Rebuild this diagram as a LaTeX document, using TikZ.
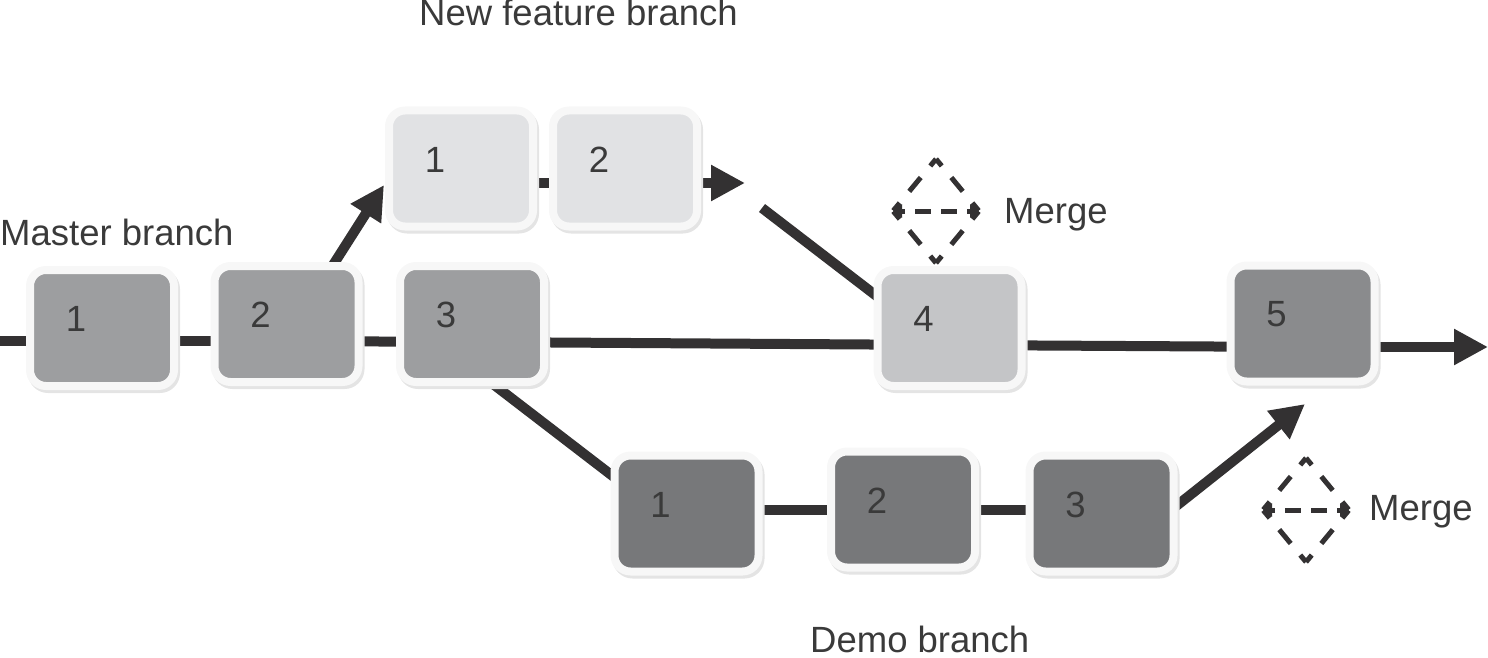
\documentclass[tikz,border=0pt]{standalone}
\usepackage{fontspec}
\setmainfont{Liberation Sans}
\usetikzlibrary{arrows.meta,shadows}
\definecolor{txt}{HTML}{3A3A3A}
\definecolor{linec}{HTML}{333132}
\definecolor{framec}{HTML}{F7F7F7}
\definecolor{shadowc}{HTML}{E4E4E4}
\definecolor{mastc}{HTML}{9D9EA0}
\definecolor{featc}{HTML}{E1E2E4}
\definecolor{mergec}{HTML}{C4C5C7}
\definecolor{fivec}{HTML}{8A8B8D}
\definecolor{democ}{HTML}{77787A}
\pgfdeclarelayer{background}
\pgfsetlayers{background,main}
\tikzset{
  bigfont/.style={font=\fontsize{36.5}{40}\selectfont, text=txt},
  commit/.style={rectangle, rounded corners=16pt, minimum width=144pt, minimum height=116pt,
    inner sep=0pt, draw=framec, line width=8pt, fill=#1,
    drop shadow={shadow xshift=2pt, shadow yshift=-3pt, fill=shadowc, draw=shadowc, line width=8pt, opacity=1}},
  numlbl/.style={bigfont, xshift=-26pt, yshift=9pt, inner sep=0pt},
  conn/.style={draw=linec, line width=10pt},
  arr/.style={conn, -{Triangle[length=34pt,width=34pt]}},
  title/.style={bigfont, anchor=base west, inner sep=0pt},
  mergeicon/.pic={
    \coordinate (-T) at (0,-52);
    \coordinate (-B) at (0,52);
    \coordinate (-L) at (-43,0);
    \coordinate (-R) at (43,0);
    \foreach \a/\b in {T/L,T/R,B/L,B/R}
      \draw[linec, line width=5pt, dash pattern=on 9pt off 15pt on 18pt off 15pt on 10pt off 60pt] (-\a) -- (-\b);
    \draw[linec, line width=5pt, dash pattern=on 4pt off 10pt on 16pt off 10pt on 16pt off 10pt on 4pt off 60pt,
      {Triangle[length=9pt,width=13pt]}-{Triangle[length=9pt,width=13pt]}] (-L) -- (-R);
  }
}
\begin{document}
\begin{tikzpicture}[x=1pt,y=-1pt]
\useasboundingbox (0,0) rectangle (1488,658);

% commits
\node[commit=mastc, label={[numlbl]center:1}] (M1) at (102,328) {};
\node[commit=mastc, label={[numlbl]center:2}] (M2) at (286.5,324) {};
\node[commit=mastc, label={[numlbl]center:3}] (M3) at (472,324) {};
\node[commit=featc, label={[numlbl]center:1}] (F1) at (461,168.5) {};
\node[commit=featc, label={[numlbl]center:2}] (F2) at (625,168.5) {};
\node[commit=mergec, label={[numlbl]center:4}] (B4) at (949.5,328) {};
\node[commit=fivec, label={[numlbl]center:5}] (B5) at (1302.5,323.5) {};
\node[commit=democ, label={[numlbl]center:1}] (D1) at (686.5,513.5) {};
\node[commit=democ, label={[numlbl]center:2}] (D2) at (903,509.5) {};
\node[commit=democ, label={[numlbl]center:3}] (D3) at (1101.5,513.5) {};

\coordinate (mstart) at (0,341);
\coordinate (mend) at (1488,347);
\coordinate (ftip) at (745,183);
\coordinate (mstub) at (762,208);

\begin{pgfonlayer}{background}
\draw[conn] (mstart) -- ([yshift=-13pt]M1.center);
\draw[conn] ([yshift=-13pt]M1.center) -- ([yshift=-17pt]M2.center);
\draw[conn] ([yshift=-17pt]M2.center) -- ([yshift=-18pt]M3.center);
\draw[conn] ([yshift=-18pt]M3.center) -- ([yshift=-17pt]B4.center);
\draw[conn] ([yshift=-17pt]B4.center) -- ([yshift=-23.5pt]B5.center);
\draw[arr] ([yshift=-23.5pt]B5.center) -- (mend);
% feature branch
\draw[arr] ([xshift=33.5pt,yshift=38.5pt]M2.center) -- ([xshift=-77pt,yshift=-16.5pt]F1.center);
\draw[conn] ([yshift=-14.5pt]F1.center) -- ([yshift=-14.5pt]F2.center);
\draw[arr] ([yshift=-14.5pt]F2.center) -- (ftip);
\draw[conn] (mstub) -- ([xshift=-49.5pt,yshift=14pt]B4.center);
% demo branch
\draw[conn] ([xshift=10pt,yshift=-51.6pt]M3.center) -- ([xshift=-46.5pt,yshift=16.5pt]D1.center);
\draw[conn] ([yshift=3.5pt]D1.center) -- ([yshift=-0.5pt]D2.center);
\draw[conn] ([yshift=-0.5pt]D2.center) -- ([yshift=3.5pt]D3.center);
\draw[arr] ([xshift=48.5pt,yshift=-13.3pt]D3.center) -- ([xshift=2.5pt,yshift=-80.5pt]B5.center);
\end{pgfonlayer}

% merge icons
\pic (mg1) at (936,211) {mergeicon};
\pic (mg2) at (1306,510) {mergeicon};

% titles
\node[title] (tmaster) at (0,245) {Master branch};
\node[title] (tfeature) at (419,26) {New feature branch};
\node[title] (tdemo) at (810,652) {Demo branch};
\node[title] (tmerge1) at (1004,223) {Merge};
\node[title] (tmerge2) at (1369,520) {Merge};
\end{tikzpicture}
\end{document}
